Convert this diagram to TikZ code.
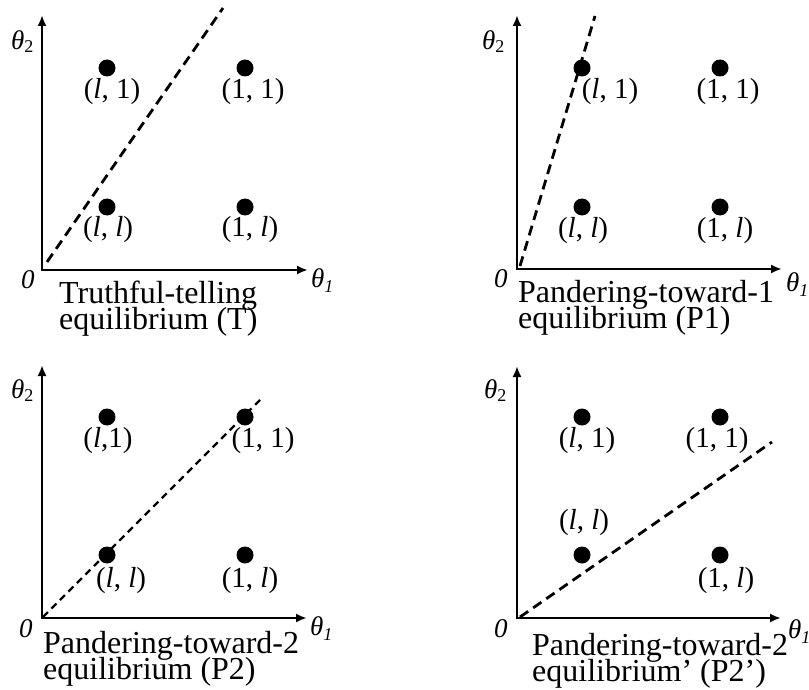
\documentclass[tikz,border=0pt]{standalone}
\usepackage{fontspec}
\setmainfont{Liberation Serif}
\usetikzlibrary{arrows.meta}
\newcommand{\subtwo}{\raisebox{-3pt}{\fontsize{18}{18}\selectfont\upshape 2}}
\newcommand{\subone}{\raisebox{-5pt}{\fontsize{18}{18}\selectfont\itshape 1}}
\newcommand{\ttlfont}{\fontsize{32}{26}\selectfont\setlength{\lineskiplimit}{-100pt}\setlength{\lineskip}{0pt}}
\begin{document}
\begin{tikzpicture}[x=1pt,y=-1pt,
  axis/.style={line width=2.8pt, line join=miter, {Latex[length=11pt,width=9pt]}-{Latex[length=11pt,width=9pt]}},
  divline/.style={line width=2.8pt, dash pattern=on 10pt off 6pt},
  divthin/.style={line width=2.2pt, dash pattern=on 7pt off 5pt},
  dot/.style={circle, fill=black, minimum size=17pt, inner sep=0pt},
  ptlab/.style={font=\fontsize{29}{29}\selectfont, inner sep=0pt},
  axlab/.style={font=\fontsize{27}{27}\selectfont\itshape, inner sep=0pt, anchor=base west},
  ttl/.style={font=\ttlfont, align=left, inner sep=0pt, anchor=north west},
]
\useasboundingbox (0,0) rectangle (809,690);

% ---------- Panel 1 (T) ----------
\coordinate (o1) at (42,270);
\coordinate (y1) at (42,15);
\coordinate (x1) at (308,270);
\coordinate (s1) at (47,262);
\coordinate (e1) at (223,8);
\draw[axis] (y1) -- (o1) -- (x1);
\draw[divline] (s1) -- (e1);
\node[dot] (a1) at (107,68) {};
\node[dot] (b1) at (245,68) {};
\node[dot] (c1) at (107,207) {};
\node[dot] (d1) at (245,207) {};
\node[ptlab] (la1) at (112,92) {(\textit{l}, 1)};
\node[ptlab] (lb1) at (253,92) {(1, 1)};
\node[ptlab] (lc1) at (108,230) {(\textit{l}, \textit{l})};
\node[ptlab] (ld1) at (250,230) {(1, \textit{l})};
\node[axlab] (t2a) at (11,50) {θ\subtwo};
\node[axlab] (t1a) at (311,287) {θ\subone};
\node[axlab] (z1) at (21,288) {0};
\node[ttl] (ti1) at (59,281) {Truthful-telling\\equilibrium (T)};

% ---------- Panel 2 (P1) ----------
\coordinate (o2) at (517,269);
\coordinate (y2) at (517,15);
\coordinate (x2) at (782,269);
\coordinate (s2) at (520,266);
\coordinate (e2) at (595,16);
\draw[axis] (y2) -- (o2) -- (x2);
\draw[divline] (s2) -- (e2);
\node[dot] (a2) at (582,68) {};
\node[dot] (b2) at (720,68) {};
\node[dot] (c2) at (582,207) {};
\node[dot] (d2) at (720,207) {};
\node[ptlab] (la2) at (610,92) {(\textit{l}, 1)};
\node[ptlab] (lb2) at (728,92) {(1, 1)};
\node[ptlab] (lc2) at (583,231) {(\textit{l}, \textit{l})};
\node[ptlab] (ld2) at (725,231) {(1, \textit{l})};
\node[axlab] (t2b) at (482,50) {θ\subtwo};
\node[axlab] (t1b) at (786,291) {θ\subone};
\node[axlab] (z2) at (494,287) {0};
\node[ttl] (ti2) at (518,280) {Pandering-toward-1\\equilibrium (P1)};

% ---------- Panel 3 (P2) ----------
\coordinate (o3) at (42,618);
\coordinate (y3) at (42,365);
\coordinate (x3) at (307,618);
\coordinate (s3) at (43,617);
\coordinate (e3) at (263,397);
\draw[axis] (y3) -- (o3) -- (x3);
\draw[divthin] (s3) -- (e3);
\node[dot] (a3) at (107,417) {};
\node[dot] (b3) at (245,417) {};
\node[dot] (c3) at (107,555) {};
\node[dot] (d3) at (245,555) {};
\node[ptlab] (la3) at (108,441) {(\textit{l},1)};
\node[ptlab] (lb3) at (263,441) {(1, 1)};
\node[ptlab] (lc3) at (121,581) {(\textit{l}, \textit{l})};
\node[ptlab] (ld3) at (250,581) {(1, \textit{l})};
\node[axlab] (t2c) at (11,398) {θ\subtwo};
\node[axlab] (t1c) at (310,635) {θ\subone};
\node[axlab] (z3) at (19,637) {0};
\node[ttl] (ti3) at (43,631) {Pandering-toward-2\\equilibrium (P2)};

% ---------- Panel 4 (P2') ----------
\coordinate (o4) at (517,618);
\coordinate (y4) at (517,366);
\coordinate (x4) at (781,618);
\coordinate (s4) at (520,617);
\coordinate (e4) at (772,442);
\draw[axis] (y4) -- (o4) -- (x4);
\draw[divline] (s4) -- (e4);
\node[dot] (a4) at (582,417) {};
\node[dot] (b4) at (720,417) {};
\node[dot] (c4) at (582,555) {};
\node[dot] (d4) at (720,555) {};
\node[ptlab] (la4) at (587,441) {(\textit{l}, 1)};
\node[ptlab] (lb4) at (717,441) {(1, 1)};
\node[ptlab] (lc4) at (584,523) {(\textit{l}, \textit{l})};
\node[ptlab] (ld4) at (726,581) {(1, \textit{l})};
\node[axlab] (t2d) at (484,398) {θ\subtwo};
\node[axlab] (z4) at (494,637) {0};
\node[ttl] (ti4) at (532,633) {Pandering-toward-2\\equilibrium’ (P2’)};
\node[axlab] (t1d) at (788,638) {θ\subone};
\end{tikzpicture}
\end{document}
